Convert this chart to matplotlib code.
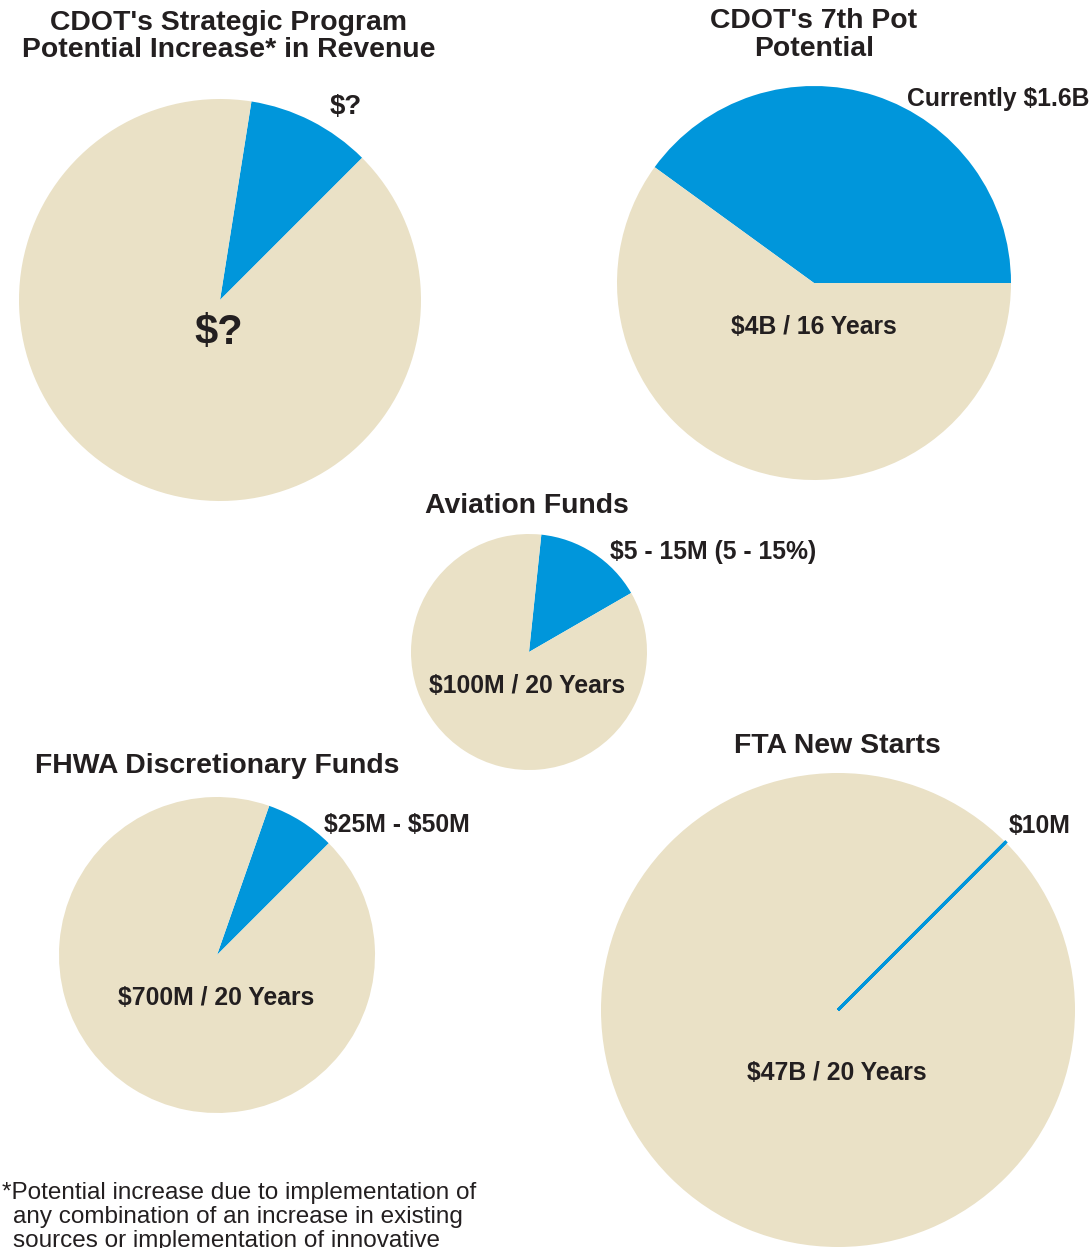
import matplotlib
matplotlib.use("Agg")
import matplotlib.pyplot as plt

plt.rcParams['font.family'] = ['Liberation Sans', 'DejaVu Sans']

W, H = 1091, 1248
BLUE = "#0096db"
BEIGE = "#eae1c6"
INK = "#231f20"

# slices: [blue part, beige rest]
strategic = [10, 90]
seventh_pot = [1.6, 2.4]          # $B: current vs rest of $4B
aviation = [15, 85]               # percent
fhwa = [50, 650]                  # $M of $700M
fta = [0.01, 47]                  # $B: $10M of $47B

fig = plt.figure(figsize=(W / 100, H / 100), dpi=100)


def px(x, y):
    return x / W, 1 - y / H


def pie_ax(cx, cy, r, values, start):
    ax = fig.add_axes([(cx - r) / W, 1 - (cy + r) / H, 2 * r / W, 2 * r / H])
    wedges, _ = ax.pie(values, colors=[BLUE, BEIGE], startangle=start,
                       counterclock=True, radius=1,
                       wedgeprops=dict(linewidth=0))
    ax.set_xlim(-1, 1)
    ax.set_ylim(-1, 1)
    ax.set_aspect("auto")
    ax.axis("off")
    return wedges


def label(x, y, s, size=17.8, ha="center", weight="bold"):
    fig.text(*px(x, y + 2), s, ha=ha, va="center", fontsize=size,
             fontweight=weight, color=INK, parse_math=False)


pie_ax(220, 300, 201, strategic, 45)
pie_ax(814, 283, 197, seventh_pot, 0)
pie_ax(529, 652, 118, aviation, 30)
pie_ax(217, 955, 158, fhwa, 45)
w = pie_ax(838, 1010, 237, fta, 45)
w[0].set_edgecolor(BLUE)
w[0].set_linewidth(2.2)
w[0].set_zorder(5)

# titles
label(229, 21, "CDOT's Strategic Program", 20.4)
label(229, 48, "Potential Increase* in Revenue", 20.4)
label(814, 19, "CDOT's 7th Pot", 20.4)
label(814, 47, "Potential", 20.4)
label(527, 504, "Aviation Funds", 20.4)
label(217, 764, "FHWA Discretionary Funds", 20.4)
label(837, 744, "FTA New Starts", 20.4)

# slice labels
label(346, 105, "$?", 20)
label(219, 331, "$?", 30)
label(907, 97, "Currently $1.6B", ha="left")
label(814, 325, "$4B / 16 Years")
label(610, 550, "$5 - 15M (5 - 15%)", ha="left")
label(527, 684, "$100M / 20 Years")
label(324, 823, "$25M - $50M", ha="left")
label(216, 996, "$700M / 20 Years")
label(1009, 824, "$10M", ha="left")
label(837, 1071, "$47B / 20 Years")

# footnote (cut off at the bottom edge, as in the source)
label(2, 1191, "*Potential increase due to implementation of", 17.5, ha="left", weight="normal")
label(13, 1215, "any combination of an increase in existing", 17.5, ha="left", weight="normal")
label(13, 1239, "sources or implementation of innovative", 17.5, ha="left", weight="normal")

fig.savefig("out.png", dpi=100)
